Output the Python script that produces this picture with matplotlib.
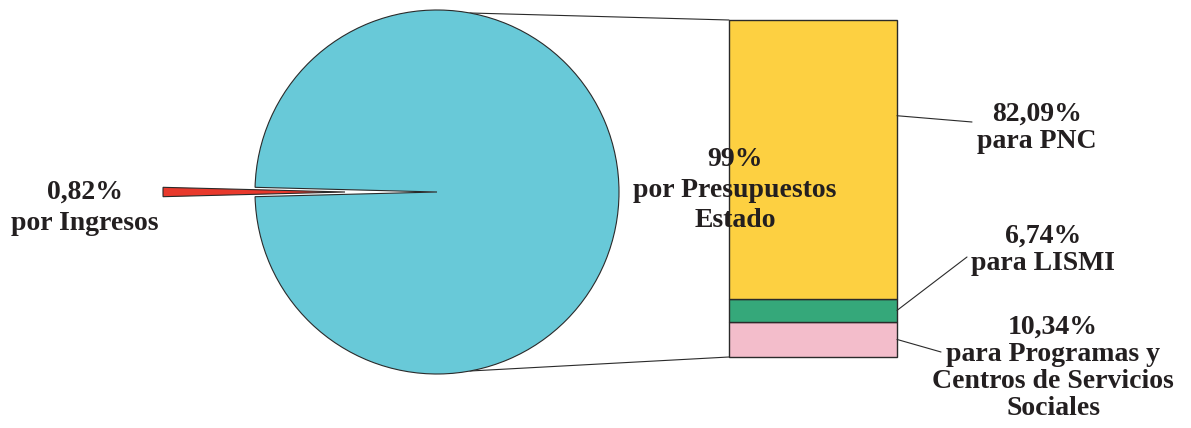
import numpy as np
import matplotlib.pyplot as plt
from matplotlib.patches import ConnectionPatch

# datos
pie_labels = ['0,82%\npor Ingresos', '99%\npor Presupuestos\nEstado']
pie_values = [0.82, 99.18]
bar_labels = ['10,34%\npara Programas y\nCentros de Servicios\nSociales',
              '6,74%\npara LISMI',
              '82,09%\npara PNC']
bar_values = [10.34, 6.74, 82.09]

pie_colors = ['#e8392c', '#68c9d8']
bar_colors = ['#f3bdcb', '#35a87a', '#fdd041']
txt_color = '#231f20'
line_color = '#2a2a2a'

plt.rcParams['font.family'] = ['Liberation Serif', 'DejaVu Serif']
plt.rcParams['font.weight'] = 'bold'

fig = plt.figure(figsize=(11.91, 4.28), dpi=100)
ax = fig.add_axes([0, 0, 1, 1])

# tarta principal (coordenadas en pixeles, y hacia arriba)
cx, cy, r = 437, 236, 182
start = 180 - pie_values[0] / sum(pie_values) * 180
ax.pie(pie_values, colors=pie_colors, startangle=start, explode=[92, 0],
       radius=r, center=(cx, cy),
       wedgeprops=dict(edgecolor=line_color, linewidth=0.8))
ax.set_xlim(0, 1191)
ax.set_ylim(0, 428)
ax.set_aspect('auto')
ax.axis('off')

# barra apilada
bax = fig.add_axes([729 / 1191, 71 / 428, 168 / 1191, 337 / 428])
total = sum(bar_values)
bottoms = np.concatenate([[0], np.cumsum(bar_values)[:-1]])
bax.bar(0, bar_values, bottom=bottoms, width=1, color=bar_colors,
        edgecolor=line_color, linewidth=1, clip_on=False)
bax.set_xlim(-0.5, 0.5)
bax.set_ylim(0, total)
bax.axis('off')

# el eje principal encima para que el texto central se vea sobre la barra
ax.set_zorder(bax.get_zorder() + 1)

# lineas de la tarta a la barra
ang = np.radians(79.6)
for sgn, yb in [(1, total), (-1, 0)]:
    pa = (cx + r * np.cos(ang), cy + sgn * r * np.sin(ang))
    con = ConnectionPatch(xyA=pa, coordsA=ax.transData, xyB=(-0.5, yb),
                          coordsB=bax.transData, color=line_color, lw=0.8)
    fig.add_artist(con)

# textos de la tarta
ax.text(85, 220, pie_labels[0], ha='center', va='center', fontsize=20,
        color=txt_color, linespacing=1.3)
ax.text(735, 238, pie_labels[1], ha='center', va='center', fontsize=20,
        color=txt_color, linespacing=1.3, zorder=5)

# etiquetas de la barra con lineas guia
lead_y = [bar_values[0] / 2, bar_values[0] + bar_values[1] / 2, 71]
lead_end = [(941, 76), (967, 171), (972, 306)]
text_pos = [(1053, 60), (1043, 178), (1037, 300)]
for lab, yb, pe, tp in zip(bar_labels, lead_y, lead_end, text_pos):
    con = ConnectionPatch(xyA=(0.5, yb), coordsA=bax.transData, xyB=pe,
                          coordsB=ax.transData, color=line_color, lw=0.8)
    fig.add_artist(con)
    ax.text(tp[0], tp[1], lab, ha='center', va='center', fontsize=20,
            color=txt_color, linespacing=1.12)

fig.savefig('out.png', dpi=100)
